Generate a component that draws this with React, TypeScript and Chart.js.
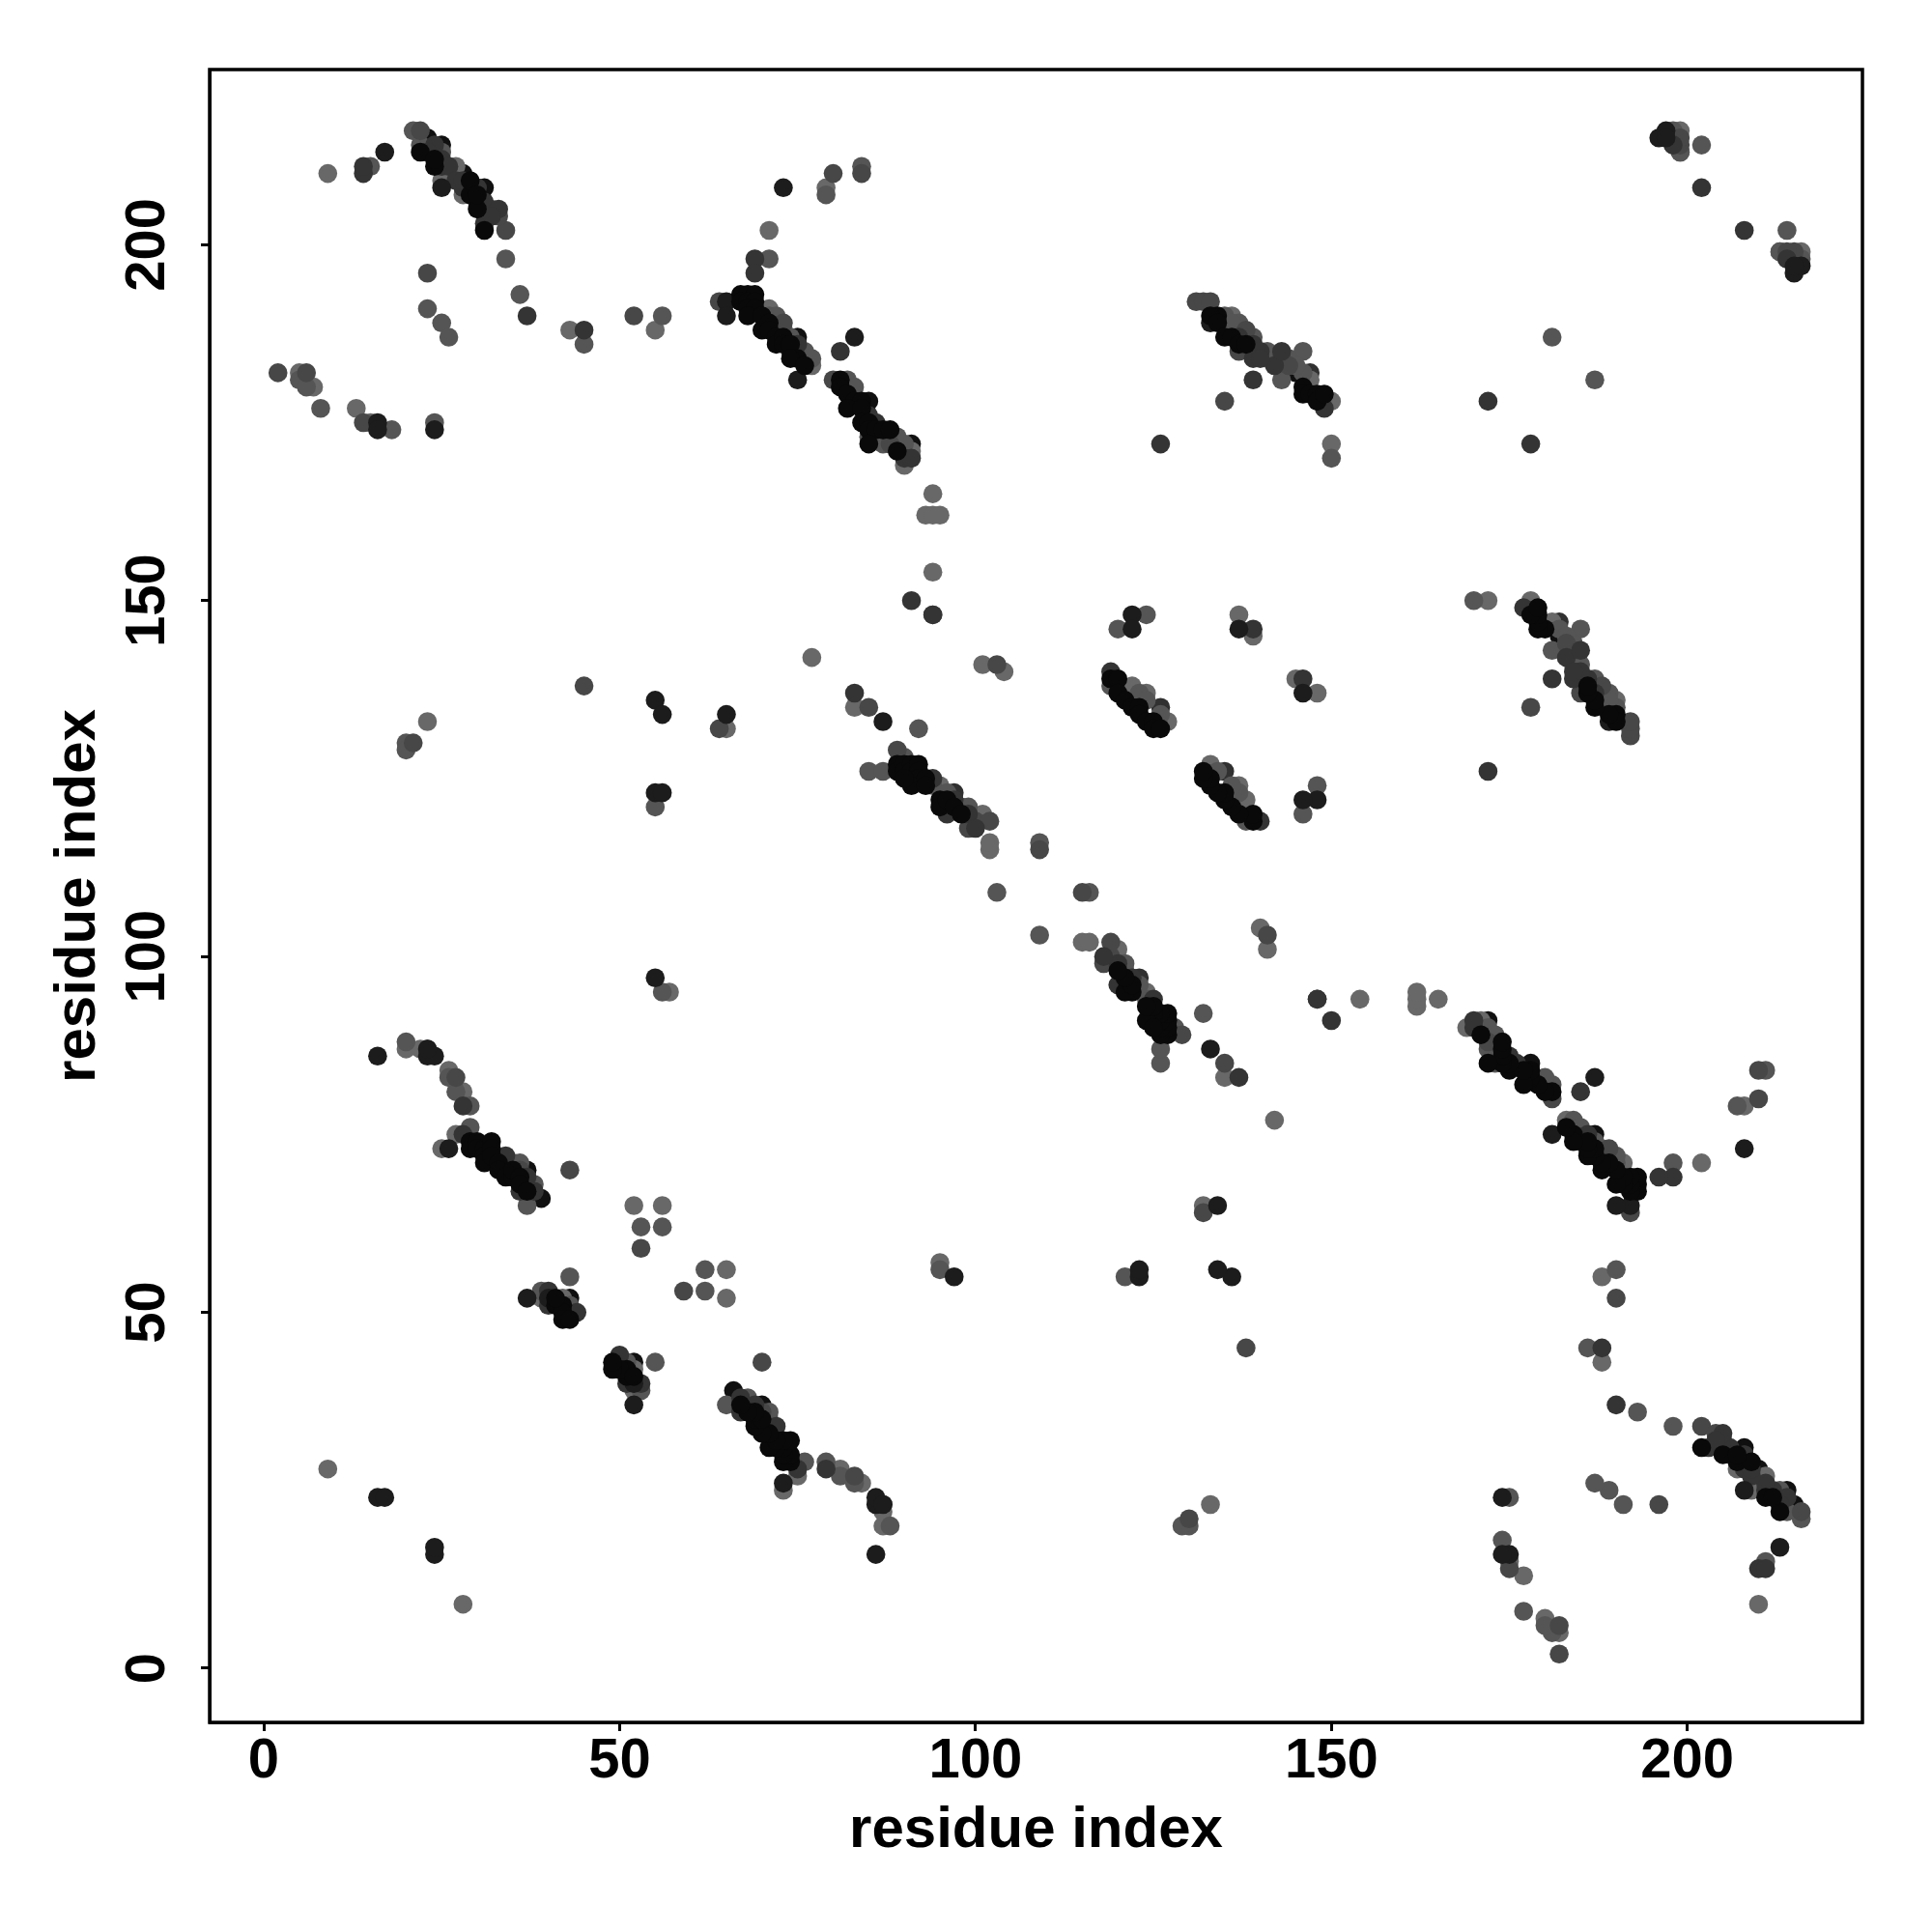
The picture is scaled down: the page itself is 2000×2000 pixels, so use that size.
import React, { useEffect, useRef } from "react";
import { Chart, registerables } from "chart.js";

Chart.register(...registerables);

type Pair = [number, number];

const axisTitle = "residue index";
const axisMin = -7.6;
const axisMax = 224.6;
const tickStep = 50;

const blackUpper: Pair[] = [
  [22,213],[24,211],[24,212],[29,207],[29,209],[30,205],[31,202],[30,207],
  [67,193],[68,193],[69,193],[67,192],[68,192],[69,192],[68,191],[69,191],[68,190],[70,190],[70,188],[71,189],[71,188],[72,187],[72,186],[73,187],[73,186],[74,186],[75,184],[74,184],[76,183],
  [81,181],[81,180],[82,179],[83,178],[84,178],[82,177],[84,177],[84,175],[85,175],[85,174],[86,174],[87,174],[88,174],[85,172],[89,171],
  [29,74],[29,73],[30,74],[30,73],[31,73],[31,72],[31,71],[32,74],[32,73],[32,72],[33,71],[33,70],[34,69],[35,69],[35,70],[36,69],[36,68],[37,67],
  [41,51],[42,51],[42,50],[42,49],[43,49],[41,52],
  [89,127],[89,126],[90,127],[90,126],[91,127],[91,126],[92,127],[92,126],[92,125],[91,124],[90,125],[93,125],[93,124],[95,122],[95,121],[96,122],[97,121],[98,120],
  [119,139],[120,139],[120,137],[121,136],[122,135],[123,135],[123,134],[124,133],[125,133],[125,132],[126,132],
  [134,190],[133,190],[134,189],[135,187],[136,187],[137,186],[138,186],[146,180],[146,179],[147,179],[148,179],[148,178],[149,179],
];
const blackLower: Pair[] = [
  [213,22],[211,24],[212,24],[207,29],[209,29],[205,30],[202,31],[207,30],
  [193,67],[193,68],[193,69],[192,67],[192,68],[192,69],[191,68],[191,69],[190,68],[190,70],[188,70],[189,71],[188,71],[187,72],[186,72],[187,73],[186,73],[186,74],[184,75],[184,74],[183,76],
  [181,81],[180,81],[179,82],[178,83],[178,84],[177,82],[177,84],[175,84],[175,85],[174,85],[174,86],[174,87],[174,88],[172,85],[171,89],
  [74,29],[73,29],[74,30],[73,30],[73,31],[72,31],[71,31],[74,32],[73,32],[72,32],[71,33],[70,33],[69,34],[69,35],[70,35],[69,36],[68,36],[67,37],
  [51,41],[51,42],[50,42],[49,42],[49,43],[52,41],
  [127,89],[126,89],[127,90],[126,90],[127,91],[126,91],[127,92],[126,92],[125,92],[124,91],[125,90],[125,93],[124,93],[122,95],[121,95],[122,96],[121,97],[120,98],
  [139,119],[139,120],[137,120],[136,121],[135,122],[135,123],[134,123],[133,124],[133,125],[132,125],[132,126],
  [190,134],[190,133],[189,134],[187,135],[187,136],[186,137],[186,138],[180,146],[179,146],[179,147],[179,148],[178,148],[179,149],
];

const inkUpper: Pair[] = [
  [73,208],[16,175],[16,174],[17,213],[24,174],[65,192],[65,190],[75,181],[83,187],[87,133],[55,136],[55,123],[56,134],[56,123],[65,134],
  [122,148],[122,146],[137,146],[16,86],[23,86],[24,86],[23,87],[16,24],[17,24],[37,52],[40,52],[196,215],[197,216],[197,215],[55,97],[26,73],[133,189],[25,208],
];
const inkLower: Pair[] = [
  [208,73],[175,16],[174,16],[213,17],[174,24],[192,65],[190,65],[181,75],[187,83],[133,87],[136,55],[123,55],[134,56],[123,56],[134,65],
  [148,122],[146,122],[146,137],[86,16],[86,23],[86,24],[87,23],[24,16],[24,17],[52,37],[52,40],[215,196],[216,197],[215,197],[97,55],[73,26],[189,133],[208,25],
];

const charUpper: Pair[] = [
  [28,208],[30,208],[24,214],[31,203],[31,206],[14,210],[14,211],[28,79],[28,75],[37,190],[69,198],[69,196],[45,188],[75,186],[74,185],[86,175],[90,170],[91,170],[81,185],
  [83,137],[91,150],[94,148],[126,172],[172,178],[202,208],[139,181],[44,50],[40,53],[40,51],[119,140],[139,186],[140,185],[142,183],[143,185],[139,184],[149,177],
  [37,69],[38,67],[36,67],[96,120],[99,120],[100,118],[97,122],[94,125],[198,214],[34,72],[139,146],[85,176],
  [25,211],[25,212],[23,213],[26,211],[27,209],[28,209],[33,205],[32,204],[30,206],[137,187],[140,184],
];
const charLower: Pair[] = [
  [208,28],[208,30],[214,24],[203,31],[206,31],[210,14],[211,14],[79,28],[75,28],[190,37],[198,69],[196,69],[188,45],[186,75],[185,74],[175,86],[170,90],[170,91],[185,81],
  [137,83],[150,91],[148,94],[172,126],[178,172],[208,202],[181,139],[50,44],[53,40],[51,40],[140,119],[186,139],[185,140],[183,142],[185,143],[184,139],[177,149],
  [69,37],[67,38],[67,36],[120,96],[120,99],[118,100],[122,97],[125,94],[214,198],[72,34],[146,139],[176,85],
  [211,25],[212,25],[213,23],[211,26],[209,27],[209,28],[205,33],[204,32],[206,30],[187,137],[184,140],
];

const slateUpper: Pair[] = [
  [2,182],[6,182],[14,175],[22,216],[23,196],[34,202],[52,190],[80,210],[84,210],[64,192],[73,189],[80,181],[88,172],[85,135],[21,130],[103,141],[109,115],[45,138],[64,132],
  [89,129],[100,119],[102,119],[99,118],[33,204],[27,83],[43,70],[53,59],[36,70],[135,178],[131,192],[132,192],[133,192],[138,188],[143,184],[144,183],[137,185],[199,214],[214,198],[215,199],[148,94],
];
const slateLower: Pair[] = [
  [182,2],[182,6],[175,14],[216,22],[196,23],[202,34],[190,52],[210,80],[210,84],[192,64],[189,73],[181,80],[172,88],[135,85],[130,21],[141,103],[115,109],[138,45],[132,64],
  [129,89],[119,100],[119,102],[118,99],[204,33],[83,27],[70,43],[59,53],[70,36],[178,135],[192,131],[192,132],[192,133],[188,138],[184,143],[183,144],[185,137],[214,199],[198,214],[199,215],[94,148],
];

const greyUpper: Pair[] = [
  [21,216],[22,214],[25,213],[32,205],[34,198],[15,211],[23,191],[25,189],[26,187],[36,193],[45,186],[56,190],[5,181],[6,180],[8,177],[18,174],[24,175],[79,207],[84,211],[71,198],[71,190],[74,187],[77,184],[82,181],[83,180],[85,173],[89,173],[87,172],
  [20,130],[20,129],[55,121],[92,132],[85,126],[87,126],[90,128],[109,116],[103,109],[120,146],[124,148],[146,185],[143,181],[136,188],[135,190],[146,182],[150,170],[181,187],[202,214],[213,199],[198,216],[199,213],
  [27,81],[29,79],[29,76],[20,88],[53,62],[56,62],[35,71],[37,65],[43,55],[39,53],[43,51],[56,95],[119,138],[123,137],[124,136],[126,134],[26,83],
  [72,190],[73,188],[76,185],[87,173],[88,173],[90,172],[94,124],[96,123],[98,121],[99,121],[137,188],[137,189],[138,187],[139,187],[141,184],[141,185],[144,184],[145,183],[135,189],[136,189],[34,71],[36,71],[37,68],[38,68],
];
const greyLower: Pair[] = [
  [216,21],[214,22],[213,25],[205,32],[198,34],[211,15],[191,23],[189,25],[187,26],[193,36],[186,45],[190,56],[181,5],[180,6],[177,8],[174,18],[175,24],[207,79],[211,84],[198,71],[190,71],[187,74],[184,77],[181,82],[180,83],[173,85],[173,89],[172,87],
  [130,20],[129,20],[121,55],[132,92],[126,85],[126,87],[128,90],[116,109],[109,103],[146,120],[148,124],[185,146],[181,143],[188,136],[190,135],[182,146],[170,150],[187,181],[214,202],[199,213],[216,198],[213,199],
  [81,27],[79,29],[76,29],[88,20],[62,53],[62,56],[71,35],[65,37],[55,43],[53,39],[51,43],[95,56],[138,119],[137,123],[136,124],[134,126],[83,26],
  [190,72],[188,73],[185,76],[173,87],[173,88],[172,90],[124,94],[123,96],[121,98],[121,99],[188,137],[189,137],[187,138],[187,139],[184,141],[185,141],[184,144],[183,145],[189,135],[189,136],[71,34],[71,36],[68,37],[68,38],
];

const paleUpper: Pair[] = [
  [9,210],[9,28],[5,182],[7,180],[13,177],[15,175],[25,209],[27,211],[28,207],[43,188],[55,188],[71,202],[71,191],[76,184],[77,183],[90,169],[91,171],[94,165],[93,162],[94,162],[95,162],[94,154],[77,142],[79,208],
  [23,133],[65,132],[83,135],[95,124],[101,120],[102,115],[102,116],[101,141],[122,138],[124,137],[127,133],[137,148],[139,145],[147,181],[150,172],[150,178],[136,190],[199,216],[26,84],[20,87],[22,87],[28,81],[25,73],[27,75],
  [52,65],[56,65],[57,95],[39,52],[42,52],[104,140],
];
const paleLower: Pair[] = [
  [210,9],[28,9],[182,5],[180,7],[177,13],[175,15],[209,25],[211,27],[207,28],[188,43],[188,55],[202,71],[191,71],[184,76],[183,77],[169,90],[171,91],[165,94],[162,93],[162,94],[162,95],[154,94],[142,77],[208,79],
  [133,23],[132,65],[135,83],[124,95],[120,101],[115,102],[116,102],[141,101],[138,122],[137,124],[133,127],[148,137],[145,139],[181,147],[172,150],[178,150],[190,136],[216,199],[84,26],[87,20],[87,22],[81,28],[73,25],[75,27],
  [65,52],[65,56],[95,57],[52,39],[52,42],[140,104],
];

const topCharUpper: Pair[] = [[126,135],[97,123],[147,182],[30,208],[87,23]];
const topCharLower: Pair[] = [[135,126],[123,97],[182,147],[208,30],[23,87]];
const topInkUpper: Pair[] = [[25,214],[23,215],[28,210],[31,208],[75,187],[85,178],[91,172],[37,70],[43,52],[145,182],[39,66]];
const topInkLower: Pair[] = [[214,25],[215,23],[210,28],[208,31],[187,75],[178,85],[172,91],[70,37],[52,43],[182,145],[66,39]];

const layers: { points: Pair[]; color: string }[] = [
  { points: [...blackUpper, ...blackLower], color: "#090909" },
  { points: [...inkUpper, ...inkLower], color: "#1c1c1c" },
  { points: [...charUpper, ...charLower], color: "#343434" },
  { points: [...slateUpper, ...slateLower], color: "#474747" },
  { points: [...greyUpper, ...greyLower], color: "#555555" },
  { points: [...paleUpper, ...paleLower], color: "#686868" },
  { points: [...topCharUpper, ...topCharLower], color: "#303030" },
  { points: [...topInkUpper, ...topInkLower], color: "#101010" },
];

const frame = {
  id: "frame",
  afterDraw(chart: any) {
    const { ctx, chartArea: a } = chart;
    ctx.save();
    ctx.strokeStyle = "#000";
    ctx.lineWidth = 3.5;
    ctx.strokeRect(a.left, a.top, a.right - a.left, a.bottom - a.top);
    ctx.restore();
  },
};

const fontFamily = "'Liberation Sans', Arial, sans-serif";

export default function App() {
  const ref = useRef<HTMLCanvasElement>(null);
  useEffect(() => {
    const shared = {
      type: "linear",
      min: axisMin,
      max: axisMax,
      grid: { drawOnChartArea: false, drawTicks: true, tickLength: 9, tickWidth: 3, tickColor: "#000" },
      border: { display: true, color: "#000", width: 3 },
    };
    const chart = new Chart(ref.current as HTMLCanvasElement, {
      type: "scatter",
      data: {
        datasets: layers.map((l) => ({
          data: l.points.map(([x, y]) => ({ x, y })),
          backgroundColor: l.color,
          borderWidth: 0,
          pointRadius: 9.8,
        })),
      },
      options: {
        animation: false,
        responsive: false,
        devicePixelRatio: 1,
        layout: { padding: { top: 72, right: 72, left: 0, bottom: 0 } },
        plugins: { legend: { display: false }, tooltip: { enabled: false } },
        scales: {
          x: {
            ...shared,
            position: "bottom",
            afterFit: (s: any) => { s.height = 217; },
            ticks: {
              stepSize: tickStep, includeBounds: false, color: "#000", padding: -3, maxRotation: 0, minRotation: 0,
              font: { family: fontFamily, weight: "bold", size: 58 },
            },
            title: {
              display: true, text: axisTitle, color: "#000",
              font: { family: fontFamily, weight: "bold", size: 60 }, padding: { top: 0, bottom: 69 },
            },
          },
          y: {
            ...shared,
            position: "left",
            afterFit: (s: any) => { s.width = 217; },
            ticks: {
              stepSize: tickStep, includeBounds: false, color: "#000", padding: 6, minRotation: 90, maxRotation: 90, crossAlign: "center",
              font: { family: fontFamily, weight: "bold", size: 58 },
            },
            title: {
              display: true, text: axisTitle, color: "#000",
              font: { family: fontFamily, weight: "bold", size: 60 }, padding: { top: 45, bottom: 0 },
            },
          },
        },
      },
      plugins: [frame],
    } as any);
    return () => chart.destroy();
  }, []);
  return (
    <div style={{ position: "absolute", left: 0, top: 0, width: 2000, height: 2000, background: "#fff" }}>
      <canvas ref={ref} width={2000} height={2000} style={{ display: "block", width: 2000, height: 2000 }} />
    </div>
  );
}
